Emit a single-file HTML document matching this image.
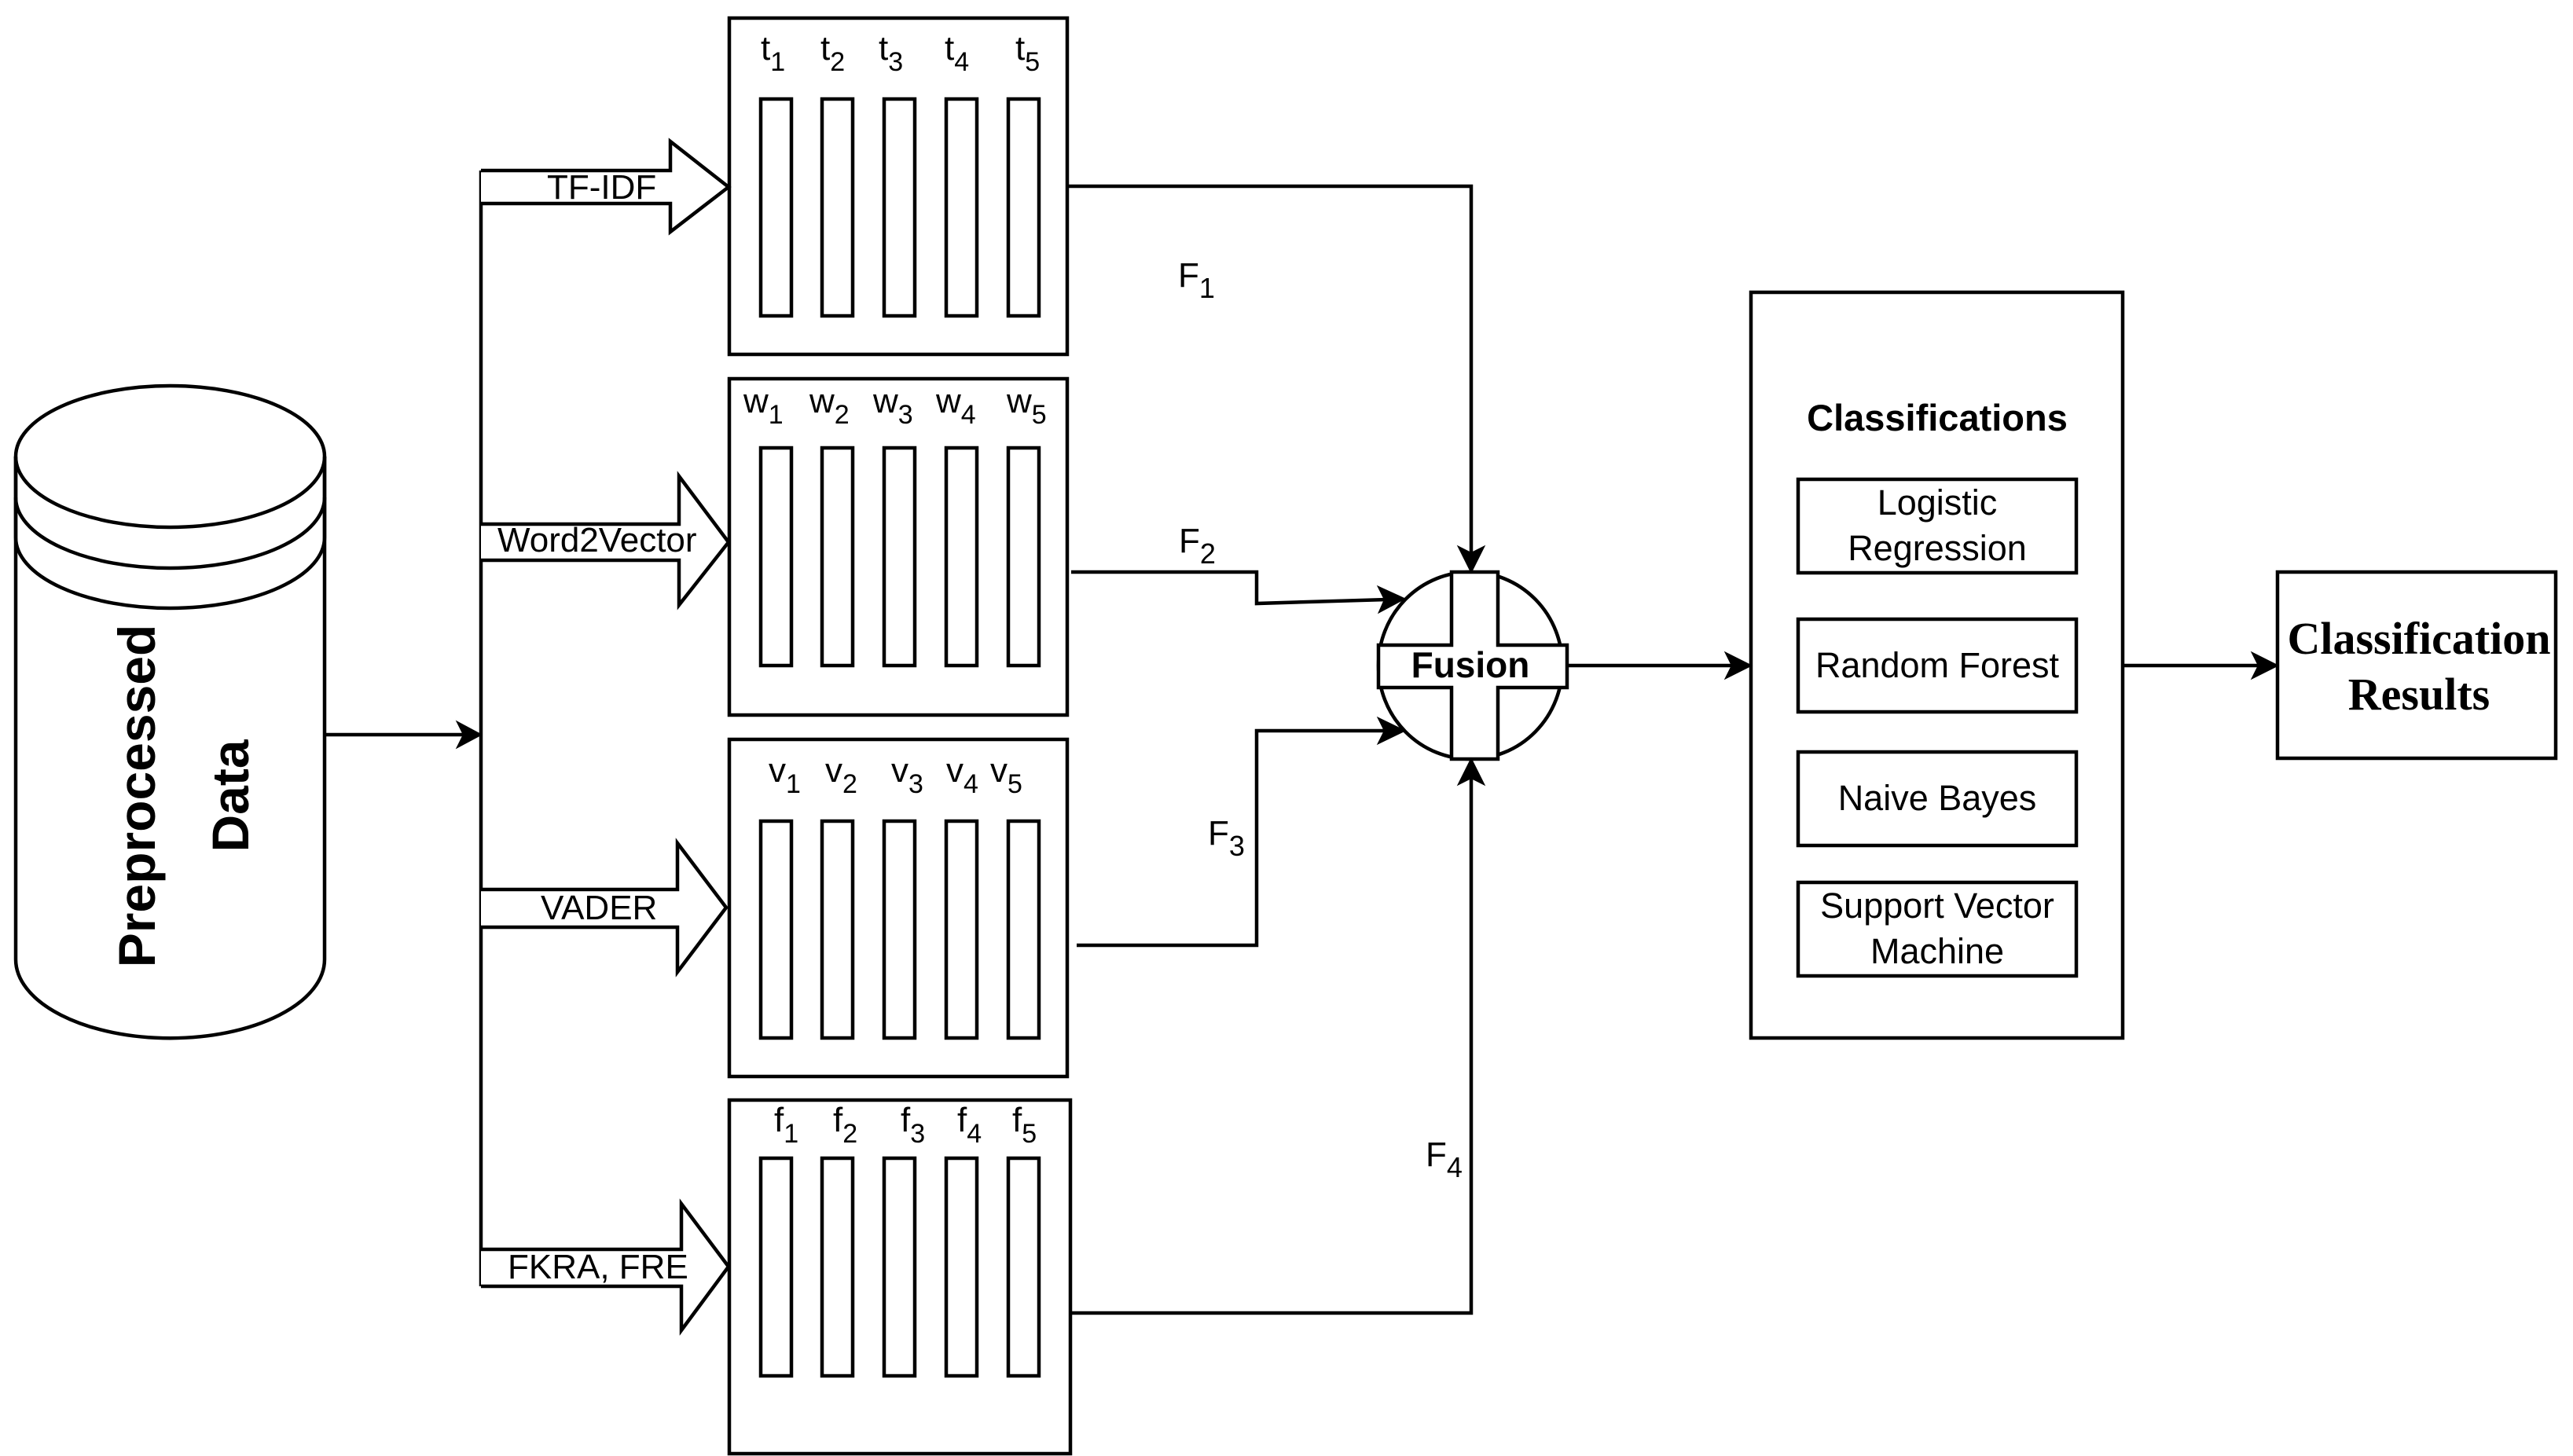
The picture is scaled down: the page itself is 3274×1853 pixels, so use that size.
<!DOCTYPE html>
<html><head><meta charset="utf-8"><style>
html,body{margin:0;padding:0;background:#fff;}
svg{display:block;}
text{font-family:"Liberation Sans",Arial,sans-serif;fill:#000;}
</style></head><body>
<svg width="3274" height="1853" viewBox="0 0 3274 1853" xmlns="http://www.w3.org/2000/svg">
<g fill="none" stroke="#000" stroke-width="4.5">
<!-- cylinder -->
<path d="M20,581 L20,1221 A196,100 0 0 0 413,1221 L413,581" fill="#fff"/>
<ellipse cx="216.5" cy="581" rx="196.5" ry="90" fill="#fff"/>
<path d="M20,581 L20,633 A196.5,90 0 0 0 413,633 L413,581"/>
<path d="M20,633 L20,684 A196.5,90 0 0 0 413,684 L413,633"/>

<line x1="413" y1="935" x2="590" y2="935"/>
<line x1="612" y1="217" x2="612" y2="1637"/>

<path d="M612,217 L853,217 L853,180 L927,238 L853,295 L853,259 L612,259" fill="#fff"/>
<path d="M612,667 L864,667 L864,606 L927,690 L864,770 L864,713 L612,713" fill="#fff"/>
<path d="M612,1132 L862,1132 L862,1073 L924,1155 L862,1237 L862,1180 L612,1180" fill="#fff"/>
<path d="M612,1590 L867,1590 L867,1532 L927,1612 L867,1693 L867,1637 L612,1637" fill="#fff"/>

<rect x="928" y="23" width="430" height="428"/>
<rect x="928" y="482" width="430" height="428"/>
<rect x="928" y="941" width="430" height="429"/>
<rect x="928" y="1400" width="434" height="450"/>
<g>
<rect x="968" y="126" width="39" height="276"/><rect x="1046" y="126" width="39" height="276"/><rect x="1125" y="126" width="39" height="276"/><rect x="1204" y="126" width="39" height="276"/><rect x="1283" y="126" width="39" height="276"/>
<rect x="968" y="570" width="39" height="277"/><rect x="1046" y="570" width="39" height="277"/><rect x="1125" y="570" width="39" height="277"/><rect x="1204" y="570" width="39" height="277"/><rect x="1283" y="570" width="39" height="277"/>
<rect x="968" y="1045" width="39" height="276"/><rect x="1046" y="1045" width="39" height="276"/><rect x="1125" y="1045" width="39" height="276"/><rect x="1204" y="1045" width="39" height="276"/><rect x="1283" y="1045" width="39" height="276"/>
<rect x="968" y="1474" width="39" height="277"/><rect x="1046" y="1474" width="39" height="277"/><rect x="1125" y="1474" width="39" height="277"/><rect x="1204" y="1474" width="39" height="277"/><rect x="1283" y="1474" width="39" height="277"/>
</g>

<polyline points="1358,237 1872,237 1872,705"/>
<polyline points="1363,728 1599,728 1599,768 1765,763"/>
<polyline points="1370,1203 1599,1203 1599,930 1765,930"/>
<polyline points="1362,1671 1872,1671 1872,990"/>

<ellipse cx="1871" cy="847" rx="117" ry="119" fill="#fff"/>
<path d="M1847,728 L1906,728 L1906,821 L1994,821 L1994,875 L1906,875 L1906,966 L1847,966 L1847,875 L1754,875 L1754,821 L1847,821 Z" fill="#fff"/>
<line x1="1994" y1="847" x2="2205" y2="847"/>

<rect x="2228" y="372" width="473" height="949"/>
<rect x="2288" y="610" width="354" height="119"/>
<rect x="2288" y="788" width="354" height="118"/>
<rect x="2288" y="957" width="354" height="119"/>
<rect x="2288" y="1123" width="354" height="119"/>
<line x1="2701" y1="847" x2="2875" y2="847"/>
<rect x="2898" y="728" width="354" height="237"/>
</g>

<g fill="#000" stroke="#000" stroke-width="2">
<path d="M612,935 L582,919 L590,935 L582,951 Z"/>
<path d="M1872,728 L1856,696 L1872,704 L1888,696 Z"/>
<path d="M1872,966 L1856,998 L1872,990 L1888,998 Z"/>
<path d="M1787,762 L1754,747 L1762,763 L1755,779 Z"/>
<path d="M1787,930 L1754,914 L1762,930 L1754,946 Z"/>
<path d="M2228,847 L2196,831 L2204,847 L2196,863 Z"/>
<path d="M2898,847 L2866,831 L2874,847 L2866,863 Z"/>
</g>

<g font-size="44">
<text x="696" y="253">TF-IDF</text>
<text x="633" y="702">Word2Vector</text>
<text x="688" y="1170">VADER</text>
<text x="646" y="1627">FKRA, FRE</text>
</g>

<g font-size="44">
<text x="968" y="76">t<tspan font-size="34" dy="14">1</tspan></text>
<text x="1044" y="76">t<tspan font-size="34" dy="14">2</tspan></text>
<text x="1118" y="76">t<tspan font-size="34" dy="14">3</tspan></text>
<text x="1202" y="76">t<tspan font-size="34" dy="14">4</tspan></text>
<text x="1292" y="76">t<tspan font-size="34" dy="14">5</tspan></text>

<text x="946" y="525">w<tspan font-size="34" dy="14">1</tspan></text>
<text x="1030" y="525">w<tspan font-size="34" dy="14">2</tspan></text>
<text x="1111" y="525">w<tspan font-size="34" dy="14">3</tspan></text>
<text x="1191" y="525">w<tspan font-size="34" dy="14">4</tspan></text>
<text x="1281" y="525">w<tspan font-size="34" dy="14">5</tspan></text>

<text x="978" y="995">v<tspan font-size="34" dy="14">1</tspan></text>
<text x="1050" y="995">v<tspan font-size="34" dy="14">2</tspan></text>
<text x="1134" y="995">v<tspan font-size="34" dy="14">3</tspan></text>
<text x="1204" y="995">v<tspan font-size="34" dy="14">4</tspan></text>
<text x="1260" y="995">v<tspan font-size="34" dy="14">5</tspan></text>

<text x="985" y="1440">f<tspan font-size="34" dy="14">1</tspan></text>
<text x="1060" y="1440">f<tspan font-size="34" dy="14">2</tspan></text>
<text x="1146" y="1440">f<tspan font-size="34" dy="14">3</tspan></text>
<text x="1218" y="1440">f<tspan font-size="34" dy="14">4</tspan></text>
<text x="1288" y="1440">f<tspan font-size="34" dy="14">5</tspan></text>

<text x="1499" y="365">F<tspan font-size="36" dy="14">1</tspan></text>
<text x="1500" y="703">F<tspan font-size="36" dy="14">2</tspan></text>
<text x="1537" y="1075">F<tspan font-size="36" dy="14">3</tspan></text>
<text x="1814" y="1484">F<tspan font-size="36" dy="14">4</tspan></text>
</g>

<text x="1871" y="862" font-size="46" font-weight="bold" text-anchor="middle">Fusion</text>
<text x="2465" y="548" font-size="47" font-weight="bold" text-anchor="middle">Classifications</text>
<g font-size="45" text-anchor="middle">
<text x="2465" y="655">Logistic</text>
<text x="2465" y="713">Regression</text>
<text x="2465" y="862">Random Forest</text>
<text x="2465" y="1031">Naive Bayes</text>
<text x="2465" y="1168">Support Vector</text>
<text x="2465" y="1226">Machine</text>
</g>
<g font-size="58" font-weight="bold" text-anchor="middle">
<text x="3078" y="832" style="font-family:'Liberation Serif',serif">Classification</text>
<text x="3078" y="903" style="font-family:'Liberation Serif',serif">Results</text>
</g>

<g transform="translate(216,1013) rotate(-90)" font-size="66" font-weight="bold" text-anchor="middle">
<text x="0" y="-19">Preprocessed</text>
<text x="0" y="100">Data</text>
</g>
</svg>
</body></html>
